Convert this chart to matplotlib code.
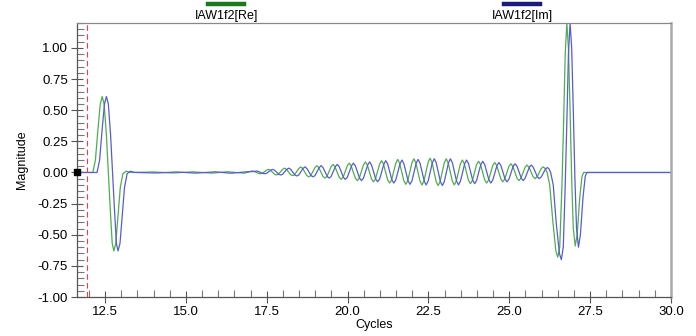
import numpy as np
import matplotlib as mpl
mpl.use("Agg")
import matplotlib.pyplot as plt
from matplotlib.lines import Line2D
from matplotlib.ticker import MultipleLocator, FormatStrFormatter

mpl.rcParams['font.family'] = ['Liberation Sans', 'DejaVu Sans']
mpl.rcParams['font.size'] = 9
mpl.rcParams['axes.unicode_minus'] = False

# Re component (green): vertices
re_t = [11.63, 12.12, 12.2, 12.28, 12.35, 12.41, 12.47, 12.54, 12.6, 12.66,
        12.72, 12.77, 12.83, 12.9, 12.97, 13.05, 13.15, 13.3,
        14.0, 14.6, 15.2, 15.8, 16.3, 16.8,
        16.99, 17.05, 17.11, 17.24, 17.30, 17.36,
        17.49, 17.55, 17.61, 17.74, 17.80, 17.86,
        17.99, 18.05, 18.11, 18.24, 18.30, 18.36,
        18.49, 18.55, 18.61, 18.74, 18.80, 18.86,
        18.99, 19.05, 19.11, 19.24, 19.30, 19.36,
        19.49, 19.55, 19.61, 19.74, 19.80, 19.86,
        19.99, 20.05, 20.11, 20.24, 20.30, 20.36,
        20.49, 20.55, 20.61, 20.74, 20.80, 20.86,
        20.99, 21.05, 21.11, 21.24, 21.30, 21.36,
        21.49, 21.55, 21.61, 21.74, 21.80, 21.86,
        21.99, 22.05, 22.11, 22.24, 22.30, 22.36,
        22.49, 22.55, 22.61, 22.74, 22.80, 22.86,
        22.99, 23.05, 23.11, 23.24, 23.30, 23.36,
        23.49, 23.55, 23.61, 23.74, 23.80, 23.86,
        23.99, 24.05, 24.11, 24.24, 24.30, 24.36,
        24.49, 24.55, 24.61, 24.74, 24.80, 24.86,
        24.99, 25.05, 25.11, 25.24, 25.30, 25.36,
        25.49, 25.55, 25.61, 25.74, 25.80, 25.86,
        25.99, 26.05, 26.11,
        26.17, 26.25, 26.35, 26.44, 26.5, 26.56, 26.63, 26.68, 26.73, 26.78,
        26.83, 26.88, 26.93, 26.98, 27.04, 27.1, 27.18, 27.25, 27.3, 30.0]
re_v = [0.0, 0.0, 0.1, 0.35, 0.55, 0.61, 0.55, 0.3, 0.0, -0.3,
        -0.57, -0.63, -0.57, -0.35, -0.12, -0.01, 0.01, 0.0,
        0.004, -0.004, 0.005, -0.005, 0.006, -0.006,
        0.008, 0.012, 0.008, -0.007, -0.01, -0.007,
        0.018, 0.025, 0.018, -0.014, -0.02, -0.014,
        0.025, 0.035, 0.025, -0.018, -0.025, -0.018,
        0.032, 0.045, 0.032, -0.025, -0.035, -0.025,
        0.039, 0.055, 0.039, -0.032, -0.045, -0.032,
        0.046, 0.065, 0.046, -0.039, -0.055, -0.039,
        0.053, 0.075, 0.053, -0.046, -0.065, -0.046,
        0.06, 0.085, 0.06, -0.053, -0.075, -0.053,
        0.067, 0.095, 0.067, -0.06, -0.085, -0.06,
        0.074, 0.105, 0.074, -0.067, -0.095, -0.067,
        0.078, 0.11, 0.078, -0.07, -0.1, -0.07,
        0.081, 0.115, 0.081, -0.074, -0.105, -0.074,
        0.078, 0.11, 0.078, -0.07, -0.1, -0.07,
        0.07, 0.1, 0.07, -0.064, -0.09, -0.064,
        0.064, 0.09, 0.064, -0.06, -0.085, -0.06,
        0.056, 0.08, 0.056, -0.053, -0.075, -0.053,
        0.05, 0.07, 0.05, -0.046, -0.065, -0.046,
        0.042, 0.06, 0.042, -0.035, -0.05, -0.035,
        0.032, 0.045, 0.032,
        0.0, -0.1, -0.4, -0.63, -0.68, -0.6, -0.1, 0.4, 0.95, 1.2,
        1.0, 0.5, -0.05, -0.45, -0.59, -0.5, -0.2, -0.03, 0.0, 0.0]

# Im component (blue)
im_t = [11.63, 12.25, 12.33, 12.41, 12.48, 12.54, 12.6, 12.67, 12.73, 12.79,
        12.85, 12.9, 12.96, 13.03, 13.1, 13.18, 13.28, 13.42,
        14.1, 14.7, 15.3, 15.9, 16.4, 16.9,
        17.12, 17.18, 17.24, 17.37, 17.43, 17.49,
        17.62, 17.68, 17.74, 17.87, 17.93, 17.99,
        18.12, 18.18, 18.24, 18.37, 18.43, 18.49,
        18.62, 18.68, 18.74, 18.87, 18.93, 18.99,
        19.12, 19.18, 19.24, 19.37, 19.43, 19.49,
        19.62, 19.68, 19.74, 19.87, 19.93, 19.99,
        20.12, 20.18, 20.24, 20.37, 20.43, 20.49,
        20.62, 20.68, 20.74, 20.87, 20.93, 20.99,
        21.12, 21.18, 21.24, 21.37, 21.43, 21.49,
        21.62, 21.68, 21.74, 21.87, 21.93, 21.99,
        22.12, 22.18, 22.24, 22.37, 22.43, 22.49,
        22.62, 22.68, 22.74, 22.87, 22.93, 22.99,
        23.12, 23.18, 23.24, 23.37, 23.43, 23.49,
        23.62, 23.68, 23.74, 23.87, 23.93, 23.99,
        24.12, 24.18, 24.24, 24.37, 24.43, 24.49,
        24.62, 24.68, 24.74, 24.87, 24.93, 24.99,
        25.12, 25.18, 25.24, 25.37, 25.43, 25.49,
        25.62, 25.68, 25.74, 25.87, 25.93, 25.99,
        26.12, 26.18, 26.23,
        26.28, 26.36, 26.45, 26.55, 26.61, 26.67, 26.73, 26.78, 26.83, 26.88,
        26.93, 26.98, 27.03, 27.08, 27.14, 27.2, 27.28, 27.35, 27.4, 30.0]
im_v = [0.0, 0.0, 0.1, 0.35, 0.55, 0.61, 0.55, 0.3, 0.0, -0.3,
        -0.57, -0.63, -0.57, -0.35, -0.12, -0.01, 0.01, 0.0,
        -0.004, 0.004, -0.005, 0.005, -0.006, 0.006,
        0.008, 0.012, 0.008, -0.007, -0.01, -0.007,
        0.018, 0.025, 0.018, -0.014, -0.02, -0.014,
        0.025, 0.035, 0.025, -0.02, -0.028, -0.02,
        0.032, 0.045, 0.032, -0.025, -0.035, -0.025,
        0.039, 0.055, 0.039, -0.032, -0.045, -0.032,
        0.046, 0.065, 0.046, -0.039, -0.055, -0.039,
        0.053, 0.075, 0.053, -0.046, -0.065, -0.046,
        0.06, 0.085, 0.06, -0.053, -0.075, -0.053,
        0.067, 0.095, 0.067, -0.06, -0.085, -0.06,
        0.07, 0.1, 0.07, -0.067, -0.095, -0.067,
        0.074, 0.105, 0.074, -0.07, -0.1, -0.07,
        0.078, 0.11, 0.078, -0.074, -0.105, -0.074,
        0.078, 0.11, 0.078, -0.07, -0.1, -0.07,
        0.07, 0.1, 0.07, -0.064, -0.09, -0.064,
        0.064, 0.09, 0.064, -0.06, -0.085, -0.06,
        0.056, 0.08, 0.056, -0.053, -0.075, -0.053,
        0.05, 0.07, 0.05, -0.046, -0.065, -0.046,
        0.042, 0.06, 0.042, -0.035, -0.05, -0.035,
        0.028, 0.04, 0.028,
        0.0, -0.1, -0.4, -0.65, -0.7, -0.6, -0.1, 0.4, 0.95, 1.2,
        1.0, 0.5, -0.05, -0.45, -0.6, -0.5, -0.2, -0.03, 0.0, 0.0]

cursor_x = 11.95

fig = plt.figure(figsize=(6.96, 3.36), dpi=100)
ax = fig.add_axes([0.1106, 0.116, 0.8534, 0.8155])

ax.plot(re_t, re_v, color="#4caf4c", lw=0.9)
ax.plot(im_t, im_v, color="#5a5ad2", lw=0.9)

ax.axvline(cursor_x, color="#ee4040", lw=0.8, ls=(0, (5, 3)))
ax.plot([11.63], [0.0], marker="s", ms=4, color="black", clip_on=False, zorder=5)

ax.set_xlim(11.63, 30.0)
ax.set_ylim(-1.0, 1.2)

ax.xaxis.set_major_locator(MultipleLocator(2.5))
ax.xaxis.set_minor_locator(MultipleLocator(0.5))
ax.yaxis.set_major_locator(MultipleLocator(0.25))
ax.yaxis.set_minor_locator(MultipleLocator(0.05))
ax.xaxis.set_major_formatter(FormatStrFormatter("%.1f"))
ax.yaxis.set_major_formatter(FormatStrFormatter("%.2f"))

ax.tick_params(which="major", direction="inout", length=9, width=0.8,
               color="#555555", pad=2, labelsize=9.5)
ax.tick_params(which="minor", direction="in", length=5, width=0.8,
               color="#777777")

for side in ["left", "bottom"]:
    ax.spines[side].set_color("#555555")
    ax.spines[side].set_linewidth(0.9)
ax.spines["top"].set_color("#888888")
ax.spines["top"].set_linewidth(0.9)
ax.spines["right"].set_color("#aaaaaa")
ax.spines["right"].set_linewidth(1.8)

ax.set_xlabel("Cycles", labelpad=1)
ax.set_ylabel("Magnitude", labelpad=7)

# Legend above the plot
fig.add_artist(Line2D([0.299, 0.351], [0.989, 0.989], color="#1c7a1c", lw=3.2))
fig.text(0.325, 0.952, "IAW1f2[Re]", ha="center", va="center", fontsize=9)
fig.add_artist(Line2D([0.724, 0.776], [0.989, 0.989], color="#1a1a7c", lw=3.2))
fig.text(0.75, 0.952, "IAW1f2[Im]", ha="center", va="center", fontsize=9)

fig.savefig("out.png", dpi=100)
